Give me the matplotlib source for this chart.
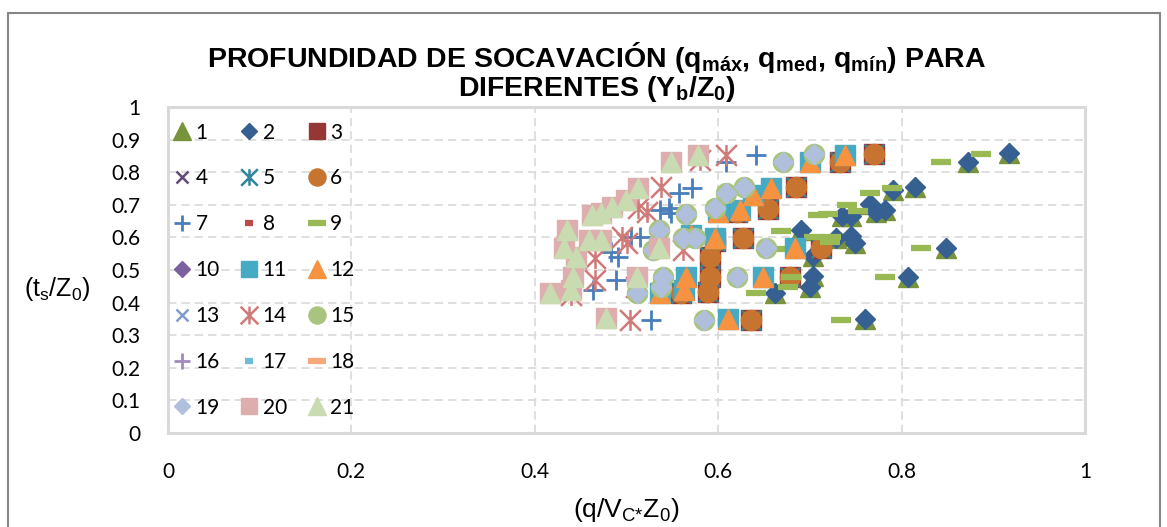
import matplotlib
matplotlib.use("Agg")
import matplotlib.pyplot as plt
from matplotlib.path import Path
from matplotlib.patches import Rectangle

plt.rcParams['font.family'] = ['Lato', 'DejaVu Sans']
plt.rcParams['mathtext.default'] = 'regular'

# group A: series 1 (triangle) and 2 (diamond) share points
x_a = [0.917, 0.872, 0.815, 0.791, 0.765, 0.782, 0.772, 0.735, 0.745, 0.728,
       0.745, 0.749, 0.690, 0.703, 0.848, 0.703, 0.807, 0.700, 0.662, 0.760]
y_a = [0.859, 0.831, 0.755, 0.745, 0.702, 0.684, 0.678, 0.666, 0.666, 0.598,
       0.604, 0.583, 0.623, 0.543, 0.567, 0.482, 0.479, 0.448, 0.429, 0.350]

# series 9 (dash)
x_9 = [0.887, 0.843, 0.790, 0.765, 0.741, 0.752, 0.720, 0.709, 0.723, 0.722,
       0.705, 0.668, 0.668, 0.821, 0.679, 0.782, 0.676, 0.641, 0.734]
y_9 = [0.856, 0.831, 0.752, 0.736, 0.699, 0.681, 0.672, 0.669, 0.601, 0.586,
       0.601, 0.620, 0.564, 0.567, 0.479, 0.479, 0.448, 0.429, 0.347]

# group B: series 3 (square), 5 (asterisk), 6 (circle)
x_b = [0.770, 0.733, 0.685, 0.654, 0.620, 0.627, 0.596, 0.712, 0.591, 0.591,
       0.678, 0.559, 0.589, 0.636]
y_b = [0.856, 0.831, 0.755, 0.687, 0.678, 0.598, 0.589, 0.567, 0.540, 0.479,
       0.479, 0.429, 0.433, 0.347]

# group C: series 11 (square) and 12 (triangle)
x_c = [0.738, 0.700, 0.658, 0.638, 0.624, 0.600, 0.597, 0.570, 0.684, 0.565,
       0.649, 0.563, 0.537, 0.611]
y_c = [0.853, 0.831, 0.752, 0.730, 0.684, 0.678, 0.598, 0.607, 0.567, 0.479,
       0.479, 0.439, 0.429, 0.350]

# group D: series 15 (circle) and 19 (diamond)
x_d = [0.705, 0.671, 0.628, 0.608, 0.596, 0.565, 0.535, 0.562, 0.575, 0.652,
       0.529, 0.620, 0.540, 0.538, 0.511, 0.584]
y_d = [0.856, 0.831, 0.755, 0.736, 0.690, 0.672, 0.623, 0.598, 0.598, 0.567,
       0.561, 0.479, 0.479, 0.448, 0.429, 0.347]

# group E: series 20 (square) and 21 (triangle)
x_e = [0.578, 0.548, 0.513, 0.499, 0.484, 0.472, 0.462, 0.435, 0.459, 0.472,
       0.432, 0.535, 0.445, 0.442, 0.511, 0.440, 0.417, 0.478]
y_e = [0.853, 0.831, 0.752, 0.715, 0.693, 0.675, 0.669, 0.623, 0.592, 0.592,
       0.567, 0.567, 0.540, 0.479, 0.479, 0.439, 0.429, 0.353]

# series 14 (asterisk)
x_14 = [0.609, 0.580, 0.538, 0.513, 0.522, 0.495, 0.500, 0.466, 0.562, 0.466,
        0.510, 0.440, 0.504]
y_14 = [0.853, 0.837, 0.755, 0.690, 0.678, 0.601, 0.583, 0.537, 0.561, 0.469,
        0.448, 0.423, 0.347]

# series 7 (plus)
x_7 = [0.641, 0.609, 0.571, 0.557, 0.546, 0.537, 0.548, 0.515, 0.505, 0.491,
       0.483, 0.489, 0.464, 0.527]
y_7 = [0.853, 0.831, 0.752, 0.736, 0.690, 0.684, 0.675, 0.601, 0.601, 0.540,
       0.555, 0.469, 0.439, 0.347]

labels = [str(i) for i in range(1, 22)]
x_ticks = [0, 0.2, 0.4, 0.6, 0.8, 1]
y_ticks = [0, 0.1, 0.2, 0.3, 0.4, 0.5, 0.6, 0.7, 0.8, 0.9, 1]

star = Path([(-1, -1), (1, 1), (-1, 1), (1, -1), (0, -1), (0, 1)],
            [Path.MOVETO, Path.LINETO, Path.MOVETO, Path.LINETO, Path.MOVETO, Path.LINETO])

# (data, marker, color, size, edge width, filled)
styles = [
    ((x_a, y_a), '^', '#77933C', 15, 1, True),
    ((x_a, y_a), 'D', '#376092', 9.8, 1, True),
    ((x_b, y_b), 's', '#953735', 14, 1, True),
    (([], []), 'x', '#604A7B', 11, 1.8, False),
    ((x_b, y_b), star, '#31859C', 14, 1.8, False),
    ((x_b, y_b), 'o', '#C77430', 14.5, 1, True),
    ((x_7, y_7), '+', '#4A7EBB', 14, 2, False),
    (([], []), '_', '#BE4B48', 7, 4.5, False),
    ((x_9, y_9), '_', '#98B954', 15, 4.5, False),
    (([], []), 'D', '#7D60A0', 9.8, 1, True),
    ((x_c, y_c), 's', '#46AAC5', 14, 1, True),
    ((x_c, y_c), '^', '#F69240', 15, 1, True),
    (([], []), 'x', '#809ECB', 11, 1.8, False),
    ((x_14, y_14), star, '#CF7B79', 15, 1.8, False),
    ((x_d, y_d), 'o', '#A9C47F', 14.5, 1, True),
    (([], []), '+', '#A08BC0', 14, 2, False),
    (([], []), '_', '#6FBCD6', 7, 4.5, False),
    (([], []), '_', '#F8A97A', 15, 4.5, False),
    ((x_d, y_d), 'D', '#B0C0DC', 9.8, 1, True),
    ((x_e, y_e), 's', '#DEAEAE', 14, 1, True),
    ((x_e, y_e), '^', '#C9DBB0', 15, 1, True),
]

fig = plt.figure(figsize=(11.67, 5.27), dpi=100)
ax = fig.add_axes([168 / 1167, 1 - 433 / 527, 917 / 1167, 326 / 527])

handles = []
for (xs, ys), mk, col, ms, mew, filled in styles:
    h, = ax.plot(xs, ys, linestyle='none', marker=mk, ms=ms, mew=mew,
                 mfc=col if filled else 'none', mec=col)
    handles.append(h)

ax.set_xlim(0, 1)
ax.set_ylim(0, 1)
ax.set_xticks(x_ticks)
ax.set_yticks(y_ticks)
ax.set_xticklabels(['0', '0.2', '0.4', '0.6', '0.8', '1'])
ax.set_yticklabels(['0', '0.1', '0.2', '0.3', '0.4', '0.5', '0.6', '0.7', '0.8', '0.9', '1'])
ax.tick_params(length=0, labelsize=15)
ax.tick_params(axis='y', pad=20)
ax.tick_params(axis='x', pad=21)
ax.grid(True, color='#D9D9D9', linewidth=1.2, dashes=(5, 3))
ax.set_axisbelow(True)
for sp in ax.spines.values():
    sp.set_color('#D9D9D9')
    sp.set_linewidth(2.2)

# legend filled row by row (matplotlib fills columns)
order = [0, 3, 6, 9, 12, 15, 18, 1, 4, 7, 10, 13, 16, 19, 2, 5, 8, 11, 14, 17, 20]
ax.legend([handles[i] for i in order], [labels[i] for i in order], ncol=3,
          loc='upper left', bbox_to_anchor=(0.006, 0.952), frameon=False,
          fontsize=15, markerscale=0.85, handlelength=0.8, handletextpad=0.25,
          columnspacing=1.02, labelspacing=1.24, borderpad=0, borderaxespad=0)

fig.text(597 / 1167, 1 - 72 / 527,
         'PROFUNDIDAD DE SOCAVACIÓN (q$_{máx}$, q$_{med}$, q$_{mín}$) PARA\n'
         'DIFERENTES (Y$_{b}$/Z$_{0}$)',
         ha='center', va='center', fontsize=20.5, fontweight='bold',
         family='Liberation Sans', linespacing=0.95)
fig.text(57 / 1167, 1 - 289 / 527, '(t$_{s}$/Z$_{0}$)', ha='center', va='center',
         fontsize=18, family='Liberation Sans')
fig.text(626 / 1167, 1 - 510 / 527, '(q/V$_{C{*}}$Z$_{0}$)', ha='center', va='center',
         fontsize=19, family='Liberation Sans')

fig.patches.append(Rectangle((8 / 1167, -0.05), 1152 / 1167, 1.05 - 13 / 527,
                             transform=fig.transFigure, fill=False,
                             edgecolor='#868686', linewidth=1.5))

fig.savefig('out.png', dpi=100)
